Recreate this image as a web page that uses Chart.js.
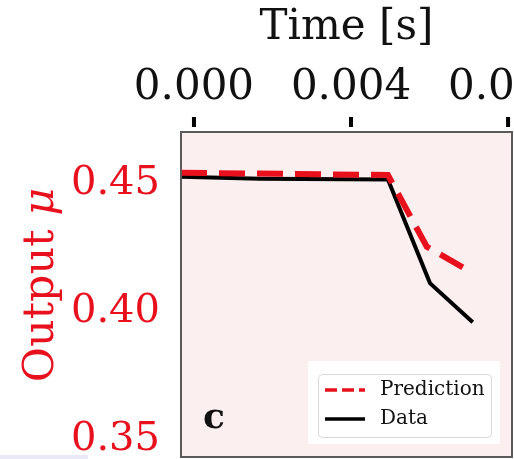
<!DOCTYPE html>
<html>
<head>
<meta charset="utf-8">
<script src="https://cdn.jsdelivr.net/npm/chart.js@4.4.1/dist/chart.umd.min.js"></script>
<style>
html, body { margin: 0; padding: 0; background: #fff; overflow: hidden; }
#wrap { position: relative; width: 514px; height: 459px; overflow: hidden; }
#chart { position: absolute; left: 0; top: 0; }
#strip { position: absolute; left: 0; top: 455px; width: 88px; height: 4px; background: #e9e9f7; }
</style>
</head>
<body>
<div id="wrap">
  <canvas id="chart" width="600" height="520" style="width:600px;height:520px"></canvas>
  <div id="strip"></div>
</div>
<script>
// data
const dataX = [-0.00033, 0.00168, 0.00494, 0.00601, 0.00710];
const dataY = [0.4526, 0.4518, 0.4516, 0.4111, 0.3958];
const predX = [-0.00033, 0.00494, 0.00593, 0.00708];
const predY = [0.4542, 0.4533, 0.4253, 0.4152];

const xTicks = [0.000, 0.004, 0.008];
const yTicks = [0.35, 0.40, 0.45];
const xMin = -0.00033, xMax = 0.0081;
const yMin = 0.3432, yMax = 0.4701;

const serif = "'DejaVu Serif', serif";
const red = '#e8101c';
const areaColor = '#fcefef';

function toPoints(xs, ys) {
    return xs.map(function(x, i) { return { x: x, y: ys[i] }; });
}

const panelPlugin = {
    id: 'panel',
    beforeDraw: function(chart) {
        const ctx = chart.ctx;
        const a = chart.chartArea;
        ctx.save();
        ctx.fillStyle = areaColor;
        ctx.fillRect(a.left, a.top, a.right - a.left, a.bottom - a.top);
        ctx.restore();
    },
    afterDraw: function(chart) {
        const ctx = chart.ctx;
        const a = chart.chartArea;
        const xs = chart.scales.x;
        ctx.save();

        // frame
        ctx.strokeStyle = '#5a5a5a';
        ctx.lineWidth = 2;
        ctx.strokeRect(a.left, a.top, a.right - a.left, a.bottom - a.top);

        // top tick marks, detached from the frame
        ctx.strokeStyle = '#000';
        ctx.lineWidth = 4;
        xTicks.forEach(function(v) {
            const px = xs.getPixelForValue(v);
            ctx.beginPath();
            ctx.moveTo(px, a.top - 15);
            ctx.lineTo(px, a.top - 5);
            ctx.stroke();
        });

        // y title with italic mu
        ctx.fillStyle = red;
        ctx.translate(53, 285);
        ctx.rotate(-Math.PI / 2);
        ctx.font = '43px ' + serif;
        const w1 = ctx.measureText('Output ').width;
        ctx.font = 'italic 43px ' + serif;
        const w2 = ctx.measureText('\u03bc').width;
        let sx = -(w1 + w2) / 2;
        ctx.textBaseline = 'alphabetic';
        ctx.textAlign = 'left';
        ctx.font = '43px ' + serif;
        ctx.fillText('Output ', sx, 0);
        ctx.font = 'italic 43px ' + serif;
        ctx.fillText('\u03bc', sx + w1, 0);
        ctx.setTransform(1, 0, 0, 1, 0, 0);

        // panel letter
        ctx.fillStyle = '#111';
        ctx.font = 'bold 36px ' + serif;
        ctx.textAlign = 'center';
        ctx.fillText('c', a.left + 33, a.bottom - 29);

        // legend
        const lx = a.right - 204, ly = a.bottom - 96;
        ctx.fillStyle = '#fff';
        ctx.fillRect(lx, ly, 192, 83);
        ctx.strokeStyle = '#d9d9d9';
        ctx.lineWidth = 1;
        ctx.beginPath();
        ctx.roundRect(lx + 10.5, ly + 13.5, 173, 63, 4);
        ctx.stroke();

        const ds = chart.data.datasets;
        ds.forEach(function(d, i) {
            const y = ly + 29 + i * 29;
            ctx.strokeStyle = d.borderColor;
            ctx.lineWidth = 3.5;
            ctx.setLineDash(d.borderDash ? [12, 5] : []);
            ctx.beginPath();
            ctx.moveTo(lx + 17, y);
            ctx.lineTo(lx + 57, y);
            ctx.stroke();
            ctx.setLineDash([]);
            ctx.fillStyle = '#111';
            ctx.font = '20px ' + serif;
            ctx.textAlign = 'left';
            ctx.textBaseline = 'middle';
            ctx.fillText(d.label, lx + 72, y);
        });
        ctx.restore();
    }
};

new Chart(document.getElementById('chart'), {
    type: 'line',
    data: {
        datasets: [{
            label: 'Prediction',
            data: toPoints(predX, predY),
            borderColor: red,
            borderWidth: 6,
            borderDash: [26, 12],
            pointRadius: 0,
            fill: false,
            tension: 0
        }, {
            label: 'Data',
            data: toPoints(dataX, dataY),
            borderColor: '#000',
            borderWidth: 4,
            pointRadius: 0,
            fill: false,
            tension: 0
        }]
    },
    options: {
        responsive: false,
        animation: false,
        layout: {
            padding: { left: 0, top: 0, right: 88, bottom: 63 }
        },
        plugins: {
            legend: { display: false },
            tooltip: { enabled: false }
        },
        scales: {
            x: {
                type: 'linear',
                position: 'top',
                min: xMin,
                max: xMax,
                afterBuildTicks: function(scale) {
                    scale.ticks = xTicks.map(function(v) { return { value: v }; });
                },
                afterFit: function(scale) { scale.height = 132; },
                grid: { display: false },
                border: { display: false },
                ticks: {
                    autoSkip: false,
                    maxRotation: 0,
                    minRotation: 0,
                    padding: 11,
                    color: '#111',
                    font: { family: serif, size: 42 },
                    callback: function(v) { return v.toFixed(3); }
                },
                title: {
                    display: true,
                    text: 'Time [s]',
                    color: '#111',
                    padding: { top: 3, bottom: 0 },
                    font: { family: serif, size: 42 }
                }
            },
            y: {
                type: 'linear',
                min: yMin,
                max: yMax,
                afterBuildTicks: function(scale) {
                    scale.ticks = yTicks.map(function(v) { return { value: v }; });
                },
                afterFit: function(scale) { scale.width = 181; },
                grid: { display: false },
                border: { display: false },
                ticks: {
                    padding: 13,
                    color: red,
                    font: { family: serif, size: 40 },
                    callback: function(v) { return v.toFixed(2); }
                }
            }
        }
    },
    plugins: [panelPlugin]
});
</script>
</body>
</html>
